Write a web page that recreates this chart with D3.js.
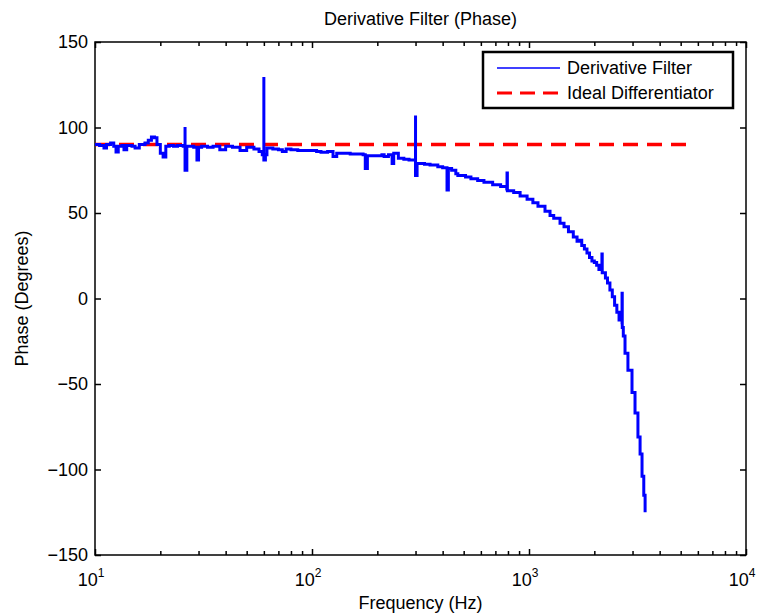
<!DOCTYPE html>
<html>
<head>
<meta charset="utf-8">
<script src="https://cdnjs.cloudflare.com/ajax/libs/d3/7.8.5/d3.min.js"></script>
<style>
  body { margin: 0; background: #fff; }
  text { font-family: "Liberation Sans", Arial, sans-serif; fill: #000; }
</style>
</head>
<body>
<svg id="chart" width="762" height="615"></svg>
<script>
// measured derivative filter response (freq in Hz, phase in degrees)
var derivFreq = [10, 10.5, 11, 11.3, 11.8, 12.2, 12.5, 12.8, 13.3, 13.6, 14, 14.8, 15.3, 16, 17, 17.6, 18.2, 18.8, 19.3, 20, 20.6, 21.2, 22, 23, 24, 25.5,
  26, 26, 26.5, 27.5, 28.5, 29.5, 30, 31, 33, 35, 37.6, 40, 43, 46.6, 50, 54, 57, 59,
  60, 60, 61, 62, 66, 70, 73, 76, 80, 86, 90, 100, 105, 110, 118, 125, 130, 140, 150, 165, 172, 176, 180, 195, 210, 215, 225, 234, 238, 250, 265, 280, 295,
  300, 300, 305, 330, 350, 380, 400, 419, 419, 425, 440, 460, 470, 490, 510, 540, 580, 620, 680, 740, 790,
  792, 795, 850, 910, 980, 1042, 1100, 1185, 1250, 1300, 1390, 1450, 1520, 1600, 1665, 1700, 1750, 1800, 1850, 1900, 1950, 2000, 2050, 2100,
  2168, 2168, 2175, 2250, 2300, 2360, 2420, 2480, 2540, 2600, 2684, 2684, 2690, 2720, 2770, 2857, 2983, 3080, 3177, 3250, 3318, 3380, 3428];
var derivPhase = [90, 89.5, 88, 90, 91, 89, 85.7, 89, 89.5, 87, 89.5, 89, 88, 90, 91, 92.5, 94.5, 94, 90, 85, 82.7, 89, 89.5, 89, 89.5, 89,
  100.3, 75, 89, 89, 88.5, 81, 88.5, 89, 88.5, 89, 87, 89, 88.5, 86.5, 88.5, 87.5, 86, 84,
  129.5, 81, 84, 88, 87.5, 87, 86, 87.5, 87, 86.5, 86.5, 86.5, 86, 85.5, 86, 83, 85, 85, 84.5, 84.5, 84, 76, 83.5, 83.5, 84, 83, 84, 79, 85, 82, 81.5, 81, 81,
  107, 72, 79, 78.5, 78, 77, 76.5, 76, 63.5, 76, 75, 73, 72, 72, 71, 70, 69, 68, 66.5, 65.5, 64,
  73.4, 63, 62, 60, 58, 56, 54, 51, 48.5, 47, 44, 42, 39, 36, 33.5, 34, 31, 29, 26.6, 24, 22, 21, 19.5, 17,
  16.7, 26, 15, 12, 9, 5, 1, -4, -8, -12.6, -15, 3, -17, -22, -32, -42, -55, -67, -81, -91, -104, -115, -125];

// ideal differentiator: flat +90 degrees
var idealFreq = [10, 5400];
var idealPhase = [90, 90];

var yTicks = [-150, -100, -50, 0, 50, 100, 150];
var xDecades = [1, 2, 3, 4];
var legendLabels = ["Derivative Filter", "Ideal Differentiator"];

var margin = {left: 95, top: 42, right: 16, bottom: 60};
var w = 762, h = 615;
var svg = d3.select("#chart");

var x = d3.scaleLog().domain([10, 10000]).range([margin.left, w - margin.right]);
var y = d3.scaleLinear().domain([-150, 150]).range([h - margin.bottom, margin.top]);

var x0 = x.range()[0], x1 = x.range()[1];
var y0 = y.range()[1], y1 = y.range()[0];

// minor + major log ticks
var minorTicks = [];
for (var d = 1; d < 4; d++) {
  for (var k = 2; k <= 9; k++) minorTicks.push(k * Math.pow(10, d));
}
var majorTicks = xDecades.map(function(e) { return Math.pow(10, e); });

// ticks point inward on all four sides
var gx = svg.append("g").attr("transform", "translate(0," + y1 + ")");
gx.call(d3.axisBottom(x).tickValues(minorTicks).tickSize(-4).tickFormat(""));
var gxMaj = svg.append("g").attr("transform", "translate(0," + y1 + ")");
gxMaj.call(d3.axisBottom(x).tickValues(majorTicks).tickSize(-6).tickFormat(""));
var gxt = svg.append("g").attr("transform", "translate(0," + y0 + ")");
gxt.call(d3.axisTop(x).tickValues(minorTicks).tickSize(-4).tickFormat(""));
var gxtMaj = svg.append("g").attr("transform", "translate(0," + y0 + ")");
gxtMaj.call(d3.axisTop(x).tickValues(majorTicks).tickSize(-6).tickFormat(""));

var gy = svg.append("g").attr("transform", "translate(" + x0 + ",0)");
gy.call(d3.axisLeft(y).tickValues(yTicks).tickSize(-6).tickPadding(7)
  .tickFormat(function(v) { return v < 0 ? "\u2212" + Math.abs(v) : v; }));
var gyr = svg.append("g").attr("transform", "translate(" + x1 + ",0)");
gyr.call(d3.axisRight(y).tickValues(yTicks).tickSize(-6).tickFormat(""));

svg.selectAll(".domain").remove();
svg.selectAll(".tick line").attr("stroke", "#000").attr("stroke-width", 1.5);
gy.selectAll("text").attr("font-size", 18).attr("fill", "#000");

// x labels as 10^n
var xl = svg.append("g");
xDecades.forEach(function(e) {
  var t = xl.append("text")
    .attr("x", x(Math.pow(10, e)) - 4)
    .attr("y", y1 + 31)
    .attr("text-anchor", "middle")
    .attr("font-size", 18);
  t.append("tspan").text("10");
  t.append("tspan").attr("dy", -9).attr("font-size", 12).text(e);
});

// frame
svg.append("rect")
  .attr("x", x0).attr("y", y0)
  .attr("width", x1 - x0).attr("height", y1 - y0)
  .attr("fill", "none").attr("stroke", "#000").attr("stroke-width", 1.5);

var line = d3.line()
  .x(function(d) { return x(d[0]); })
  .y(function(d) { return y(d[1]); });

var idealData = idealFreq.map(function(f, i) { return [f, idealPhase[i]]; });
var derivData = derivFreq.map(function(f, i) { return [f, derivPhase[i]]; });

svg.append("path")
  .datum(idealData)
  .attr("d", line)
  .attr("fill", "none")
  .attr("stroke", "#ff0000")
  .attr("stroke-width", 3.5)
  .attr("stroke-dasharray", "15,9");

// dense measured data shows up as a jagged staircase
svg.append("path")
  .datum(derivData)
  .attr("d", line.curve(d3.curveStepAfter))
  .attr("fill", "none")
  .attr("stroke", "#0000ff")
  .attr("stroke-width", 3)
  .attr("stroke-linejoin", "miter");

// titles
svg.append("text")
  .attr("x", (x0 + x1) / 2).attr("y", 25)
  .attr("text-anchor", "middle").attr("font-size", 18)
  .text("Derivative Filter (Phase)");
svg.append("text")
  .attr("x", (x0 + x1) / 2).attr("y", 609)
  .attr("text-anchor", "middle").attr("font-size", 18)
  .text("Frequency (Hz)");
svg.append("text")
  .attr("transform", "translate(28," + ((y0 + y1) / 2) + ") rotate(-90)")
  .attr("text-anchor", "middle").attr("font-size", 18)
  .text("Phase (Degrees)");

// legend
var lg = svg.append("g").attr("transform", "translate(483,52)");
lg.append("rect")
  .attr("width", 250).attr("height", 56)
  .attr("fill", "#fff").attr("stroke", "#000").attr("stroke-width", 2.5);
var lstyles = [
  {color: "#0000ff", width: 1.5, dash: null},
  {color: "#ff0000", width: 3, dash: "15,8"}
];
legendLabels.forEach(function(lab, i) {
  var yy = 16 + i * 25;
  lg.append("line")
    .attr("x1", 14).attr("x2", 77).attr("y1", yy).attr("y2", yy)
    .attr("stroke", lstyles[i].color)
    .attr("stroke-width", lstyles[i].width)
    .attr("stroke-dasharray", lstyles[i].dash);
  lg.append("text")
    .attr("x", 84).attr("y", yy + 6)
    .attr("font-size", 18)
    .text(lab);
});
</script>
</body>
</html>
